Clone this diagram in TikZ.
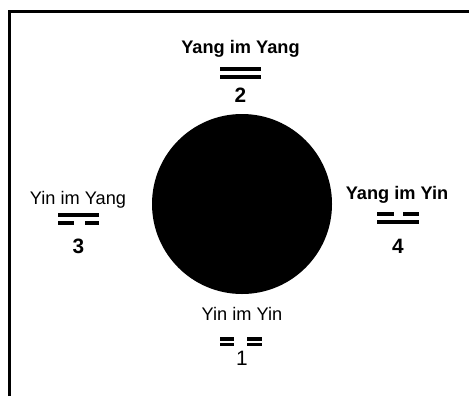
\documentclass[tikz,border=0pt]{standalone}
\usepackage{fontspec}
\setmainfont{Liberation Sans}
\usetikzlibrary{positioning}

\begin{document}
\begin{tikzpicture}[x=0.5pt, y=-0.5pt,
  txt/.style={anchor=base, inner sep=0pt, font=\fontsize{9.1}{11}\selectfont},
  btxt/.style={txt, font=\fontsize{9.1}{11}\selectfont\bfseries},
  num/.style={txt, font=\fontsize{10.4}{12}\selectfont\bfseries},
  bar/.style={line width=1.7pt}]
  \useasboundingbox (0,0) rectangle (469,396);

  % Frame
  \draw[line width=1.6pt] (9.5,396) -- (9.5,11.5) -- (469,11.5);

  % Centre
  \node[circle, fill, minimum size=90pt, inner sep=0pt] (dot) at (242,204) {};

  % Labels
  \node[btxt] (yangyang) at (240.5,53) {Yang im Yang};
  \node[txt]  (yinyang)  at (78,204)   {Yin im Yang};
  \node[btxt] (yangyin)  at (397,199)  {Yang im Yin};
  \node[txt]  (yinyin)   at (242,320)  {Yin im Yin};

  % Numbers
  \node[num] (two)   at (240.5,102) {2};
  \node[num] (three) at (78.5,253)  {3};
  \node[num] (four)  at (398,253)   {4};
  \node[num, font=\fontsize{10.4}{12}\selectfont] (one) at (242,365) {1};

  % Digrams
  \draw[bar] (220,69) -- (261,69);
  \draw[bar] (220,77) -- (261,77);

  \draw[bar] (58,215) -- (99,215);
  \draw[bar] (58,223) -- (74,223) (85,223) -- (99,223);

  \draw[bar] (377,214) -- (394,214) (403,214) -- (419,214);
  \draw[bar] (377,222) -- (419,222);

  \draw[bar] (220,339) -- (234,339) (247,339) -- (262,339);
  \draw[bar] (220,344.5) -- (234,344.5) (247,344.5) -- (262,344.5);
\end{tikzpicture}
\end{document}
